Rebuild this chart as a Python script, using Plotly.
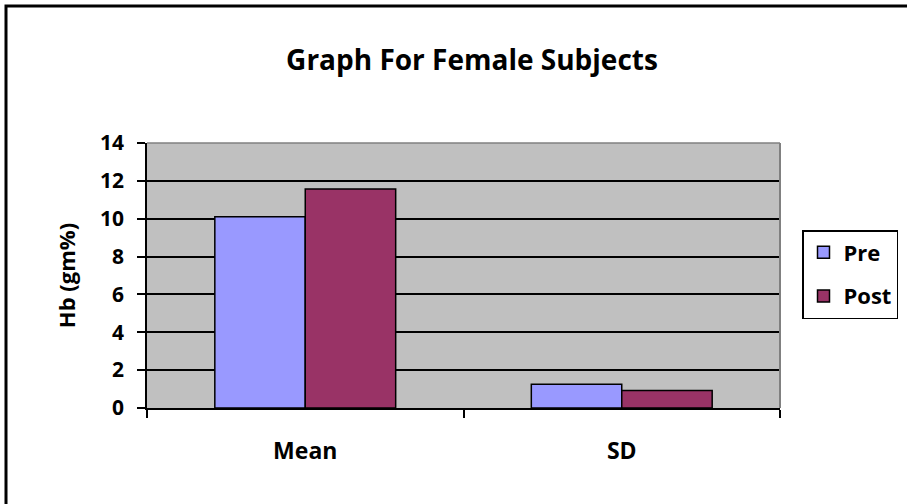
import plotly.graph_objects as go

categories = ["Mean", "SD"]
pre_values = [10.1, 1.25]
post_values = [11.57, 0.93]
series_names = ["Pre", "Post"]
y_ticks = [0, 2, 4, 6, 8, 10, 12, 14]

W, H = 907, 504
L, R, T, B = 147, 127, 143, 96
pw, ph = W - L - R, H - T - B

def px_x(p):
    return (p - L) / pw

def px_y(p):
    return (H - B - p) / ph

FONT = "Open Sans"

fig = go.Figure()
fig.add_trace(go.Bar(x=categories, y=pre_values, name=series_names[0], legendgroup="a",
                     marker=dict(color="#9999FF", line=dict(color="black", width=1.5))))
fig.add_trace(go.Bar(x=categories, y=post_values, name=series_names[1], legendgroup="b",
                     marker=dict(color="#993366", line=dict(color="black", width=1.5))))

fig.update_layout(
    width=W, height=H,
    margin=dict(l=L, r=R, t=T, b=B, autoexpand=False),
    paper_bgcolor="white", plot_bgcolor="#C0C0C0",
    barmode="group", bargap=1.5 / 3.5, bargroupgap=0,
    font=dict(family=FONT, color="black", size=20, weight="bold"),
    title=dict(text="Graph For Female Subjects", x=472 / W, xanchor="center",
               y=1 - 60 / H, yanchor="middle", yref="container", xref="container",
               font=dict(size=28, family=FONT, weight="bold")),
    showlegend=True,
    legend=dict(x=px_x(802), y=px_y(230), xanchor="left", yanchor="top",
                bordercolor="black", borderwidth=1.5, bgcolor="white",
                font=dict(size=22, family=FONT, weight="bold"),
                traceorder="grouped", tracegroupgap=12, itemwidth=30),
    xaxis=dict(showline=True, linecolor="black", linewidth=1.5, ticks="outside",
               tickson="boundaries", ticklen=8, tickwidth=1.5, tickcolor="black",
               ticklabelstandoff=22, tickfont=dict(size=23, family=FONT, weight="bold"),
               showgrid=False),
    yaxis=dict(range=[0, 14], tickvals=y_ticks, showline=True, linecolor="black", linewidth=1.5,
               ticks="outside", ticklen=8, tickwidth=1.5, tickcolor="black",
               ticklabelstandoff=9,
               showgrid=True, gridcolor="black", gridwidth=2, zeroline=False,
               tickfont=dict(size=21, family=FONT, weight="bold"),
               title=dict(text="Hb (gm%)", font=dict(size=22, family=FONT, weight="bold"),
                          standoff=18)),
)

# top and right plot border (gray)
fig.add_shape(type="line", xref="paper", yref="paper", x0=0, x1=1, y0=1, y1=1,
              line=dict(color="#808080", width=1.5))
fig.add_shape(type="line", xref="paper", yref="paper", x0=1, x1=1, y0=0, y1=1,
              line=dict(color="#808080", width=2))
# outer chart border (only top and left are visible in the frame)
fig.add_shape(type="rect", xref="paper", yref="paper",
              x0=px_x(6), x1=px_x(915), y0=px_y(6), y1=px_y(515),
              line=dict(color="black", width=3), fillcolor="rgba(0,0,0,0)")

fig.write_html("out.html", config={"displayModeBar": False},
               post_script="document.body.style.margin='0';document.body.style.overflow='hidden';")
